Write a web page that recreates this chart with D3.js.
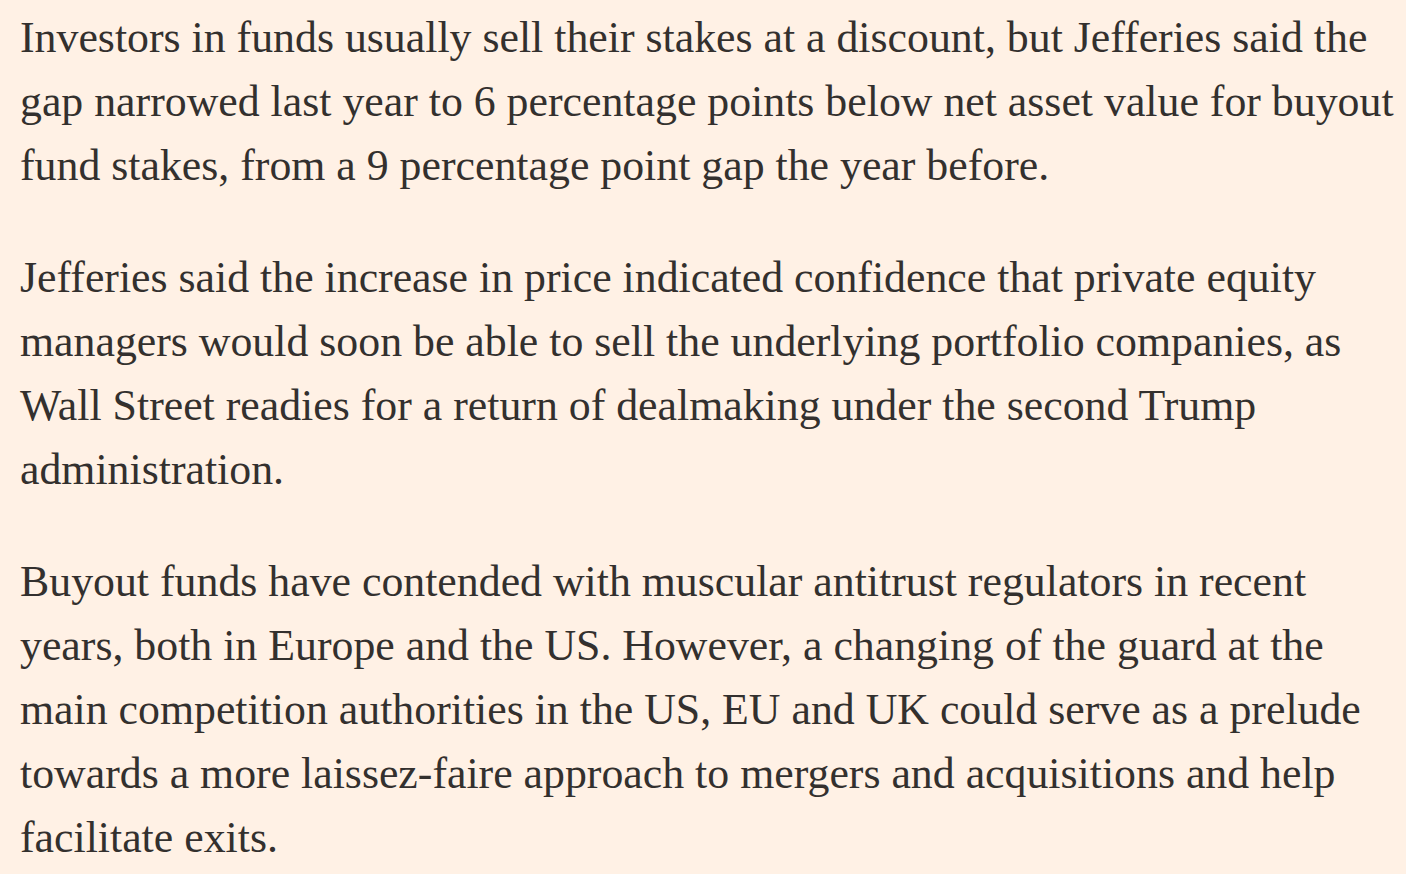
<!DOCTYPE html>
<html>
<head>
<meta charset="utf-8">
<script src="https://cdn.jsdelivr.net/npm/d3@7"></script>
<style>
  html, body { margin: 0; padding: 0; background: #FFF1E5; }
  svg { display: block; }
</style>
</head>
<body>
<svg id="chart" width="1406" height="874"></svg>
<script>
// Text content: each paragraph as its lines, as wrapped in the reference
const paragraph1 = [
  "Investors in funds usually sell their stakes at a discount, but Jefferies said the",
  "gap narrowed last year to 6 percentage points below net asset value for buyout",
  "fund stakes, from a 9 percentage point gap the year before."
];
const paragraph2 = [
  "Jefferies said the increase in price indicated confidence that private equity",
  "managers would soon be able to sell the underlying portfolio companies, as",
  "Wall Street readies for a return of dealmaking under the second Trump",
  "administration."
];
const paragraph3 = [
  "Buyout funds have contended with muscular antitrust regulators in recent",
  "years, both in Europe and the US. However, a changing of the guard at the",
  "main competition authorities in the US, EU and UK could serve as a prelude",
  "towards a more laissez-faire approach to mergers and acquisitions and help",
  "facilitate exits."
];
const paragraphs = [paragraph1, paragraph2, paragraph3];

// Layout
const W = 1406, H = 874;
const left = 20;
const firstBaseline = 52;
const lineHeight = 64;
const paraGap = 48;
const maxLineWidth = 1374; // widest line in the reference reaches x≈1394
const fontFamily = "'Liberation Serif', 'DejaVu Serif', serif";
const textColor = "#33302E";

const svg = d3.select("#chart");
svg.append("rect").attr("width", W).attr("height", H).attr("fill", "#FFF1E5");

// flatten lines with paragraph / line index
const rows = [];
paragraphs.forEach((p, pi) => p.forEach((line, li) => rows.push({ pi, li, text: line })));

// vertical placement via a linear scale on a "slot" index (line + paragraph gaps)
const y = d3.scaleLinear().domain([0, 1]).range([firstBaseline, firstBaseline + lineHeight]);
let slot = 0;
rows.forEach((r, i) => {
  if (i > 0) {
    slot += 1;
    if (r.li === 0) slot += paraGap / lineHeight;
  }
  r.slot = slot;
});

// determine font size so the widest line fits the reference's widest line
let fontSize = 44;
let widest = 0;
rows.forEach(r => {
  const probe = svg.append("text")
    .attr("font-family", fontFamily)
    .attr("font-size", fontSize)
    .text(r.text);
  widest = Math.max(widest, probe.node().getComputedTextLength());
  probe.remove();
});
if (widest > 0) fontSize = fontSize * maxLineWidth / widest;

svg.append("g")
  .selectAll("text")
  .data(rows)
  .join("text")
  .attr("x", left)
  .attr("y", d => y(d.slot))
  .attr("font-family", fontFamily)
  .attr("font-size", fontSize)
  .attr("fill", textColor)
  .text(d => d.text);
</script>
</body>
</html>
